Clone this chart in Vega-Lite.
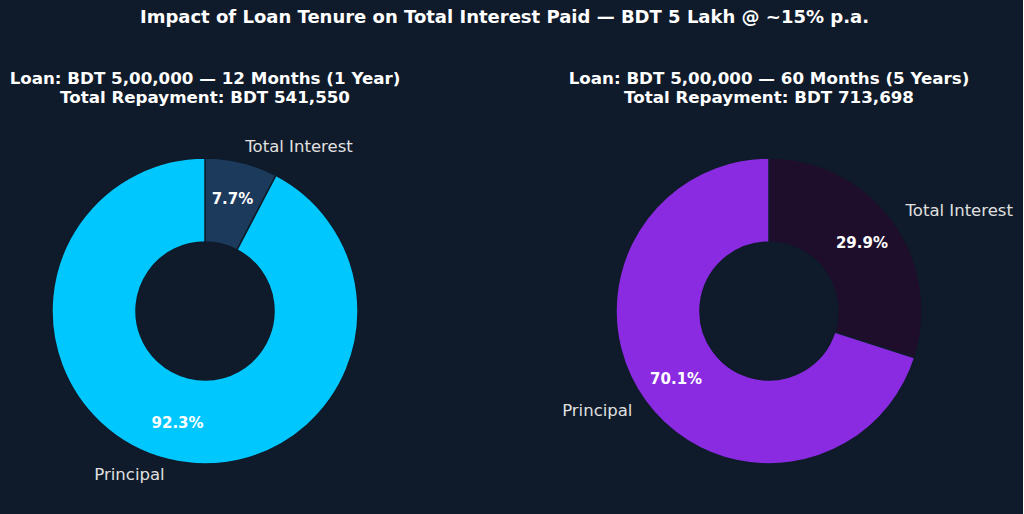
{
  "$schema": "https://vega.github.io/schema/vega-lite/v6.json",
  "background": "#0f1b2a",
  "padding": {"left": 0, "right": 10, "top": 8, "bottom": 23},
  "title": {
    "text": "Impact of Loan Tenure on Total Interest Paid — BDT 5 Lakh @ ~15% p.a.",
    "font": "DejaVu Sans", "fontSize": 18, "fontWeight": "bold", "color": "#ffffff",
    "anchor": "middle", "dx": -2, "offset": 44
  },
  "datasets": {
    "short": [
      {"label": "Total Interest", "amount": 41550, "idx": 1},
      {"label": "Principal", "amount": 500000, "idx": 2}
    ],
    "long": [
      {"label": "Total Interest", "amount": 213698, "idx": 1},
      {"label": "Principal", "amount": 500000, "idx": 2}
    ]
  },
  "config": {
    "view": {"stroke": null},
    "title": {"font": "DejaVu Sans", "color": "#ffffff"},
    "concat": {"spacing": 152}
  },
  "hconcat": [
    {
      "width": 410, "height": 360,
      "data": {"name": "short"},
      "title": {"text": ["Loan: BDT 5,00,000 — 12 Months (1 Year)", "Total Repayment: BDT 541,550"], "fontSize": 16.7, "fontWeight": "bold", "lineHeight": 19.5, "offset": 24, "anchor": "middle"},
      "transform": [
        {"joinaggregate": [{"op": "sum", "field": "amount", "as": "total"}]},
        {"calculate": "format(datum.amount / datum.total * 100, '.1f') + '%'", "as": "pct"}
      ],
      "encoding": {
        "theta": {"field": "amount", "type": "quantitative", "stack": true},
        "order": {"field": "idx", "type": "quantitative", "sort": "ascending"}
      },
      "layer": [
        {
          "mark": {"type": "arc", "outerRadius": 153, "innerRadius": 69, "stroke": "#0f1b2a", "strokeWidth": 1.5},
          "encoding": {
            "color": {"field": "label", "type": "nominal", "legend": null,
              "scale": {"domain": ["Total Interest", "Principal"], "range": ["#1b3a5c", "#00c8ff"]}}
          }
        },
        {
          "mark": {"type": "text", "radius": 115, "font": "DejaVu Sans", "fontSize": 15, "fontWeight": "bold", "color": "#ffffff"},
          "encoding": {"text": {"field": "pct"}}
        },
        {
          "mark": {"type": "text", "radius": 169, "align": "left", "baseline": "middle", "font": "DejaVu Sans", "fontSize": 16.5, "color": "#e0e0e0"},
          "encoding": {"text": {"condition": {"test": "datum.label === 'Total Interest'", "field": "label"}, "value": ""}}
        },
        {
          "mark": {"type": "text", "radius": 169, "align": "right", "baseline": "middle", "font": "DejaVu Sans", "fontSize": 16.5, "color": "#e0e0e0"},
          "encoding": {"text": {"condition": {"test": "datum.label === 'Principal'", "field": "label"}, "value": ""}}
        }
      ]
    },
    {
      "width": 410, "height": 360,
      "data": {"name": "long"},
      "title": {"text": ["Loan: BDT 5,00,000 — 60 Months (5 Years)", "Total Repayment: BDT 713,698"], "fontSize": 16.7, "fontWeight": "bold", "lineHeight": 19.5, "offset": 24, "anchor": "middle"},
      "transform": [
        {"joinaggregate": [{"op": "sum", "field": "amount", "as": "total"}]},
        {"calculate": "format(datum.amount / datum.total * 100, '.1f') + '%'", "as": "pct"}
      ],
      "encoding": {
        "theta": {"field": "amount", "type": "quantitative", "stack": true},
        "order": {"field": "idx", "type": "quantitative", "sort": "ascending"}
      },
      "layer": [
        {
          "mark": {"type": "arc", "outerRadius": 153, "innerRadius": 69, "stroke": "#0f1b2a", "strokeWidth": 1.5},
          "encoding": {
            "color": {"field": "label", "type": "nominal", "legend": null,
              "scale": {"domain": ["Total Interest", "Principal"], "range": ["#1e0d2b", "#8a2be2"]}}
          }
        },
        {
          "mark": {"type": "text", "radius": 115, "font": "DejaVu Sans", "fontSize": 15, "fontWeight": "bold", "color": "#ffffff"},
          "encoding": {"text": {"field": "pct"}}
        },
        {
          "mark": {"type": "text", "radius": 169, "align": "left", "baseline": "middle", "font": "DejaVu Sans", "fontSize": 16.5, "color": "#e0e0e0"},
          "encoding": {"text": {"condition": {"test": "datum.label === 'Total Interest'", "field": "label"}, "value": ""}}
        },
        {
          "mark": {"type": "text", "radius": 169, "align": "right", "baseline": "middle", "font": "DejaVu Sans", "fontSize": 16.5, "color": "#e0e0e0"},
          "encoding": {"text": {"condition": {"test": "datum.label === 'Principal'", "field": "label"}, "value": ""}}
        }
      ]
    }
  ],
  "resolve": {"scale": {"color": "independent", "theta": "independent"}}
}
